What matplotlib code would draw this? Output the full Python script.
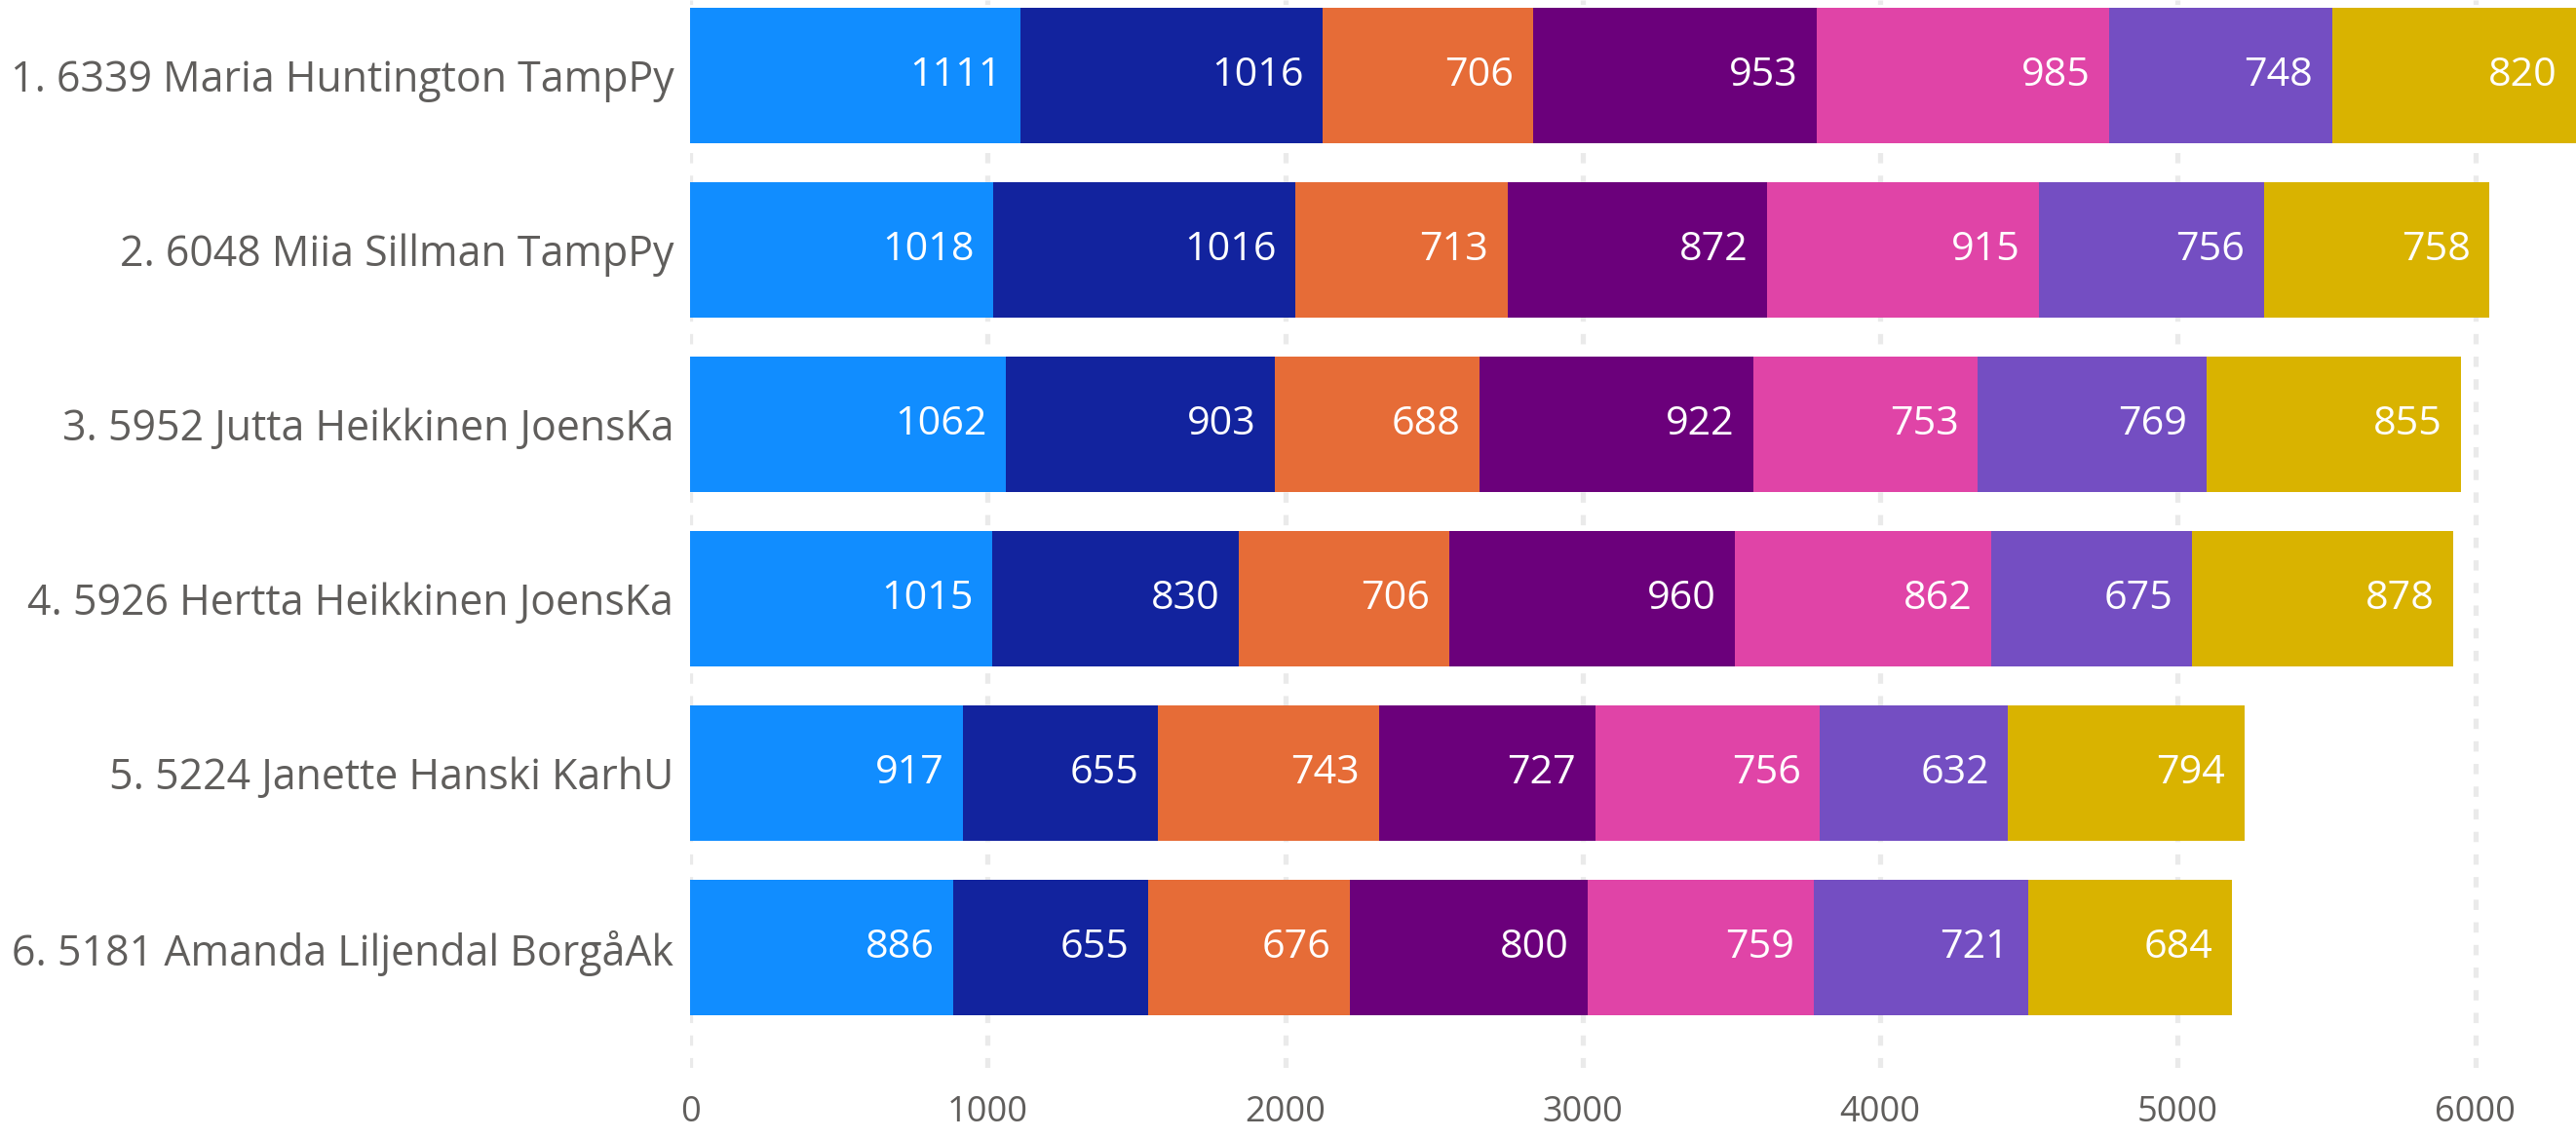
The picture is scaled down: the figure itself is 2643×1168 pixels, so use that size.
import matplotlib
matplotlib.use("Agg")
import matplotlib.pyplot as plt
import numpy as np

athletes = [
    "1. 6339 Maria Huntington TampPy",
    "2. 6048 Miia Sillman TampPy",
    "3. 5952 Jutta Heikkinen JoensKa",
    "4. 5926 Hertta Heikkinen JoensKa",
    "5. 5224 Janette Hanski KarhU",
    "6. 5181 Amanda Liljendal BorgåAk",
]
event1 = [1111, 1018, 1062, 1015, 917, 886]
event2 = [1016, 1016, 903, 830, 655, 655]
event3 = [706, 713, 688, 706, 743, 676]
event4 = [953, 872, 922, 960, 727, 800]
event5 = [985, 915, 753, 862, 756, 759]
event6 = [748, 756, 769, 675, 632, 721]
event7 = [820, 758, 855, 878, 794, 684]
series = [event1, event2, event3, event4, event5, event6, event7]
colors = ["#118DFF", "#12239E", "#E66C37", "#6B007B", "#E044A7", "#744EC2", "#D9B300"]
xticks = [0, 1000, 2000, 3000, 4000, 5000, 6000]

plt.rcParams['font.family'] = ['Open Sans', 'DejaVu Sans']

W, H = 2643, 1168
fig = plt.figure(figsize=(W / 100, H / 100), dpi=100)
ax = fig.add_axes([708 / W, 1 - 1096 / H, 1 - 708 / W, 1096 / H])

y = np.arange(len(athletes))
left = np.zeros(len(athletes))
for vals, c in zip(series, colors):
    vals = np.array(vals, dtype=float)
    ax.barh(y, vals, left=left, height=0.78, color=c, zorder=3)
    for yi, l, v in zip(y, left, vals):
        ax.annotate(f"{int(v)}", xy=(l + v, yi), xytext=(-14, 0), textcoords="offset points",
                    ha="right", va="center", color="white", fontsize=29.7, zorder=4)
    left += vals

ax.set_xlim(0, 6339)
ax.set_ylim(5.69, -0.433)
ax.set_yticks(y)
ax.set_yticklabels(athletes, fontsize=30.9, color="#605E5C")
ax.set_xticks(xticks)
ax.set_xticklabels([str(t) for t in xticks], fontsize=26, color="#605E5C")
ax.tick_params(axis="both", length=0)
ax.tick_params(axis="y", pad=12)
ax.tick_params(axis="x", pad=20)
for s in ax.spines.values():
    s.set_visible(False)
for t in xticks:
    ax.axvline(t, color="#EAEAEA", linewidth=3.8, linestyle=(0, (2.0, 2.4)), zorder=1)

fig.savefig("out.png", dpi=100, facecolor="white")
